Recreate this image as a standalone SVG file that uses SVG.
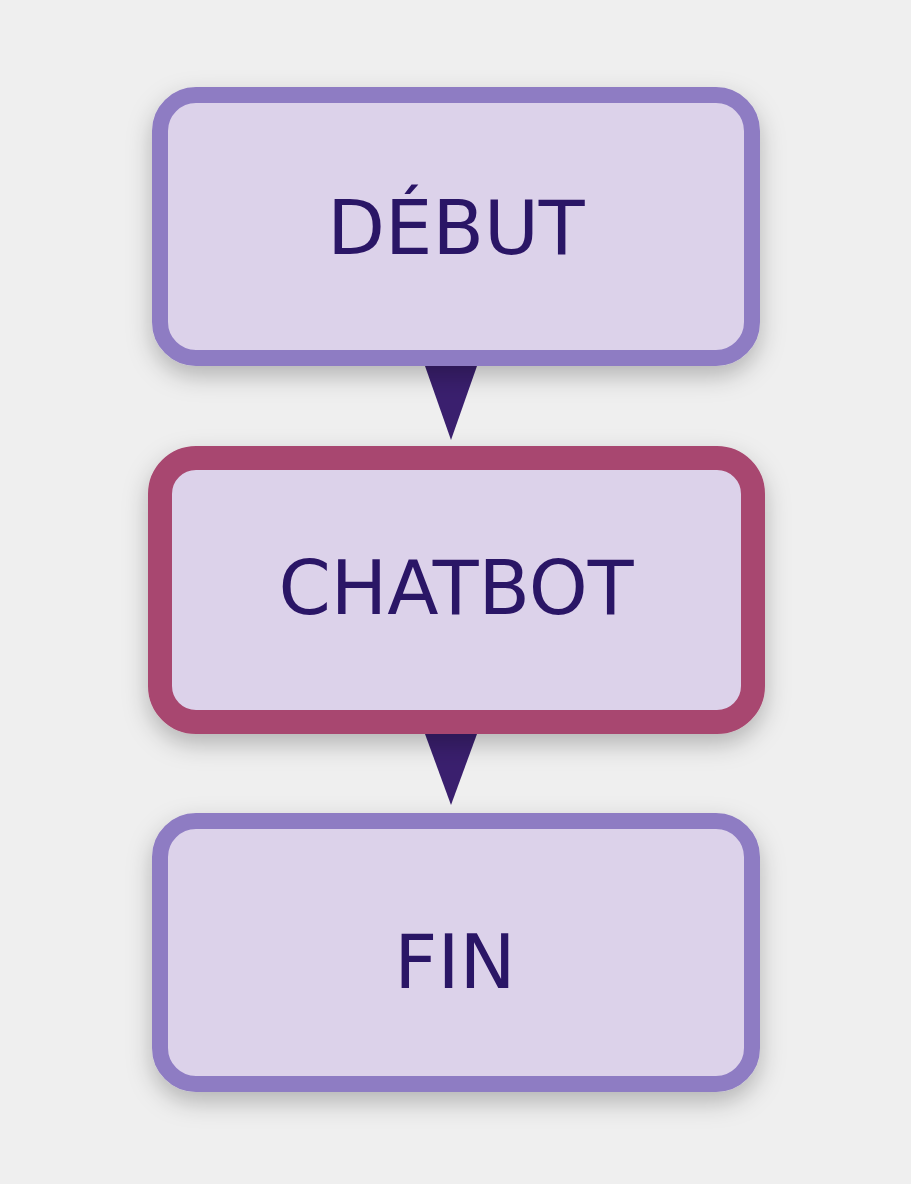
<svg xmlns="http://www.w3.org/2000/svg" width="911" height="1184" viewBox="0 0 911 1184">
<style>
.box{fill:#dcd2ea;stroke:#8e7cc3;stroke-width:16}
.hot{stroke:#a8476f;stroke-width:24}
.lbl{font-family:"DejaVu Sans",sans-serif;font-size:75px;fill:#2a1266;text-anchor:middle;dominant-baseline:central}
.arr{fill:#3a1f6e}
</style>
<defs>
<filter id="sh" x="-20%" y="-20%" width="140%" height="150%">
<feDropShadow dx="0" dy="10" stdDeviation="12" flood-color="#000" flood-opacity="0.25"/>
</filter>
</defs>
<rect width="911" height="1184" fill="#efefef"/>
<g id="connectors">
<polygon class="arr" points="425,366 477,366 451,440"/>
<polygon class="arr" points="425,734 477,734 451,805"/>
</g>
<g id="debut" filter="url(#sh)">
<rect class="box" x="160" y="95" width="592" height="263" rx="36"/>
<text class="lbl" x="456" y="228">DÉBUT</text>
</g>
<g id="chatbot" filter="url(#sh)">
<rect class="box hot" x="160" y="458" width="593" height="264" rx="36"/>
<text class="lbl" x="456" y="588">CHATBOT</text>
</g>
<g id="fin" filter="url(#sh)">
<rect class="box" x="160" y="821" width="592" height="263" rx="36"/>
<text class="lbl" x="455" y="962">FIN</text>
</g>
</svg>
